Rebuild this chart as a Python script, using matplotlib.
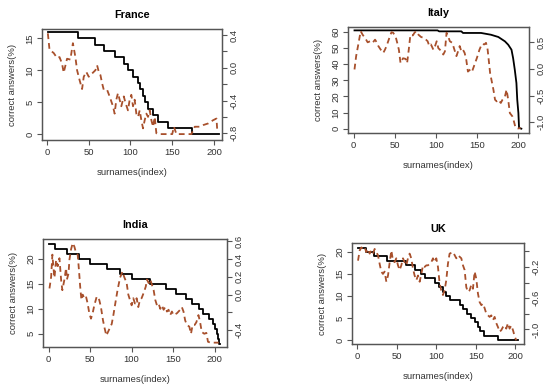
import numpy as np
import matplotlib
matplotlib.use("Agg")
import matplotlib.pyplot as plt

plt.rcParams['font.family'] = ['Liberation Sans', 'DejaVu Sans']

# ---------------- data ----------------
# France: black step (correct answers %), dashed (right axis)
fr_step_start = [1, 37, 58, 68, 81, 92, 97, 103, 109, 111, 115, 117, 121, 127, 133, 145, 174]
fr_step_level = [16, 15, 14, 13, 12, 11, 10, 9, 8, 7, 6, 5, 4, 3, 2, 1, 0]
fr_step_end = 206
fr_dash_idx = [1, 3, 8, 12, 15, 18, 20, 24, 28, 31, 34, 36, 39, 42, 44, 47, 50, 54, 58, 60,
               62, 64, 66, 68, 72, 75, 79, 81, 83, 85, 87, 89, 92, 94, 97, 99, 101, 103, 105, 107,
               109, 111, 113, 115, 117, 119, 121, 123, 125, 127, 129, 131, 133, 150, 152, 155, 157, 173, 177, 183,
               187, 193, 199, 203, 204]
fr_dash_val = [0.42, 0.22, 0.18, 0.12, 0.13, 0.05, -0.06, 0.11, 0.10, 0.30, 0.13, -0.03, -0.15, -0.26, -0.11, -0.05, -0.11, -0.07, -0.03, 0.03,
               -0.05, -0.09, -0.19, -0.27, -0.27, -0.35, -0.47, -0.56, -0.39, -0.31, -0.39, -0.47, -0.35, -0.43, -0.52, -0.39, -0.33, -0.47, -0.39, -0.56,
               -0.60, -0.52, -0.64, -0.74, -0.64, -0.56, -0.60, -0.52, -0.64, -0.72, -0.60, -0.80, -0.81, -0.81, -0.72, -0.81, -0.81, -0.81, -0.72, -0.72,
               -0.70, -0.68, -0.64, -0.62, -0.78]

# Italy
it_line_idx = [1, 102, 104, 131, 133, 155, 167, 176, 184, 188, 192, 194, 196, 198, 199, 200.4, 201.2, 204]
it_line_val = [61.0, 61.0, 60.4, 60.4, 59.4, 59.4, 58.3, 56.9, 54.2, 52.1, 49.0, 43.7, 36.6, 28.3, 18.0, 9.7, 0.4, 0.0]
it_dash_idx = [1, 3, 6, 8.5, 11, 14, 17, 20, 23, 26, 28, 30, 33, 36, 38, 40, 42, 44, 46, 48,
               51, 53, 55, 57, 60, 63, 65, 67, 69, 72, 74, 76, 79, 82, 86, 90, 92, 94, 97, 99,
               101, 103, 107, 109, 111, 113, 115, 117, 120, 122, 125, 127, 129, 131, 133, 135, 137, 139, 142, 144,
               147, 150, 153, 156, 159, 161, 163, 166, 170, 172, 174, 176, 179, 181, 184, 186, 188, 190, 193, 195,
               197, 200, 203]
it_dash_val = [-0.01, 0.24, 0.49, 0.71, 0.64, 0.58, 0.50, 0.52, 0.49, 0.55, 0.50, 0.43, 0.36, 0.30, 0.36, 0.43, 0.52, 0.61, 0.69, 0.68,
               0.61, 0.49, 0.36, 0.11, 0.20, 0.19, 0.11, 0.36, 0.64, 0.63, 0.68, 0.71, 0.64, 0.60, 0.58, 0.52, 0.43, 0.46, 0.36, 0.43,
               0.52, 0.39, 0.33, 0.27, 0.33, 0.68, 0.61, 0.52, 0.49, 0.39, 0.24, 0.33, 0.43, 0.33, 0.36, 0.30, 0.17, -0.05, -0.01, -0.05,
               0.08, 0.21, 0.36, 0.47, 0.46, 0.49, 0.36, -0.08, -0.39, -0.58, -0.61, -0.58, -0.64, -0.58, -0.52, -0.39, -0.58, -0.83, -0.89, -0.99,
               -1.11, -1.12, -1.11]

# India
in_step_start = [1, 8, 22, 36, 50, 70, 86, 100, 122, 141, 153, 165, 173, 181, 186, 193, 198, 201, 203, 204, 205]
in_step_level = [23, 22, 21, 20, 19, 18, 17, 16, 15, 14, 13, 12, 11, 10, 9, 8, 7, 6, 5, 4, 3]
in_step_end = 206
in_dash_idx = [1, 3, 4.5, 6, 7, 9, 11, 13, 15, 16.5, 19, 21, 22, 24, 25, 27, 29, 31, 33, 35,
               36.5, 38, 39.5, 41, 43, 45, 47, 49, 51, 53, 55, 58, 61, 63, 65.5, 67.5, 69.5, 71.5, 73.5, 76,
               78, 81, 83, 86, 89, 91, 94, 96, 98, 100, 102, 104, 106, 108, 110, 112, 114.5, 117, 118.5, 120.5,
               122.5, 124.5, 126.5, 128.5, 130.5, 132.5, 134.5, 136.5, 138.5, 140.5, 142.5, 144.5, 146.5, 148.5, 150.5, 154.5, 158.5, 160.5, 162.5, 164.5,
               166.5, 169.5, 171.5, 173.5, 176, 178, 180.5, 182.5, 184.5, 187.5, 190, 192, 195, 199, 205]
in_dash_val = [0.07, 0.20, 0.45, 0.28, 0.19, 0.39, 0.32, 0.41, 0.17, 0.05, 0.17, 0.30, 0.17, 0.24, 0.39, 0.51, 0.58, 0.54, 0.47, 0.45,
               0.28, 0.09, -0.06, 0.00, -0.04, -0.02, -0.10, -0.21, -0.27, -0.21, -0.12, -0.02, -0.06, -0.14, -0.29, -0.38, -0.46, -0.42, -0.38, -0.33,
               -0.23, -0.06, 0.05, 0.19, 0.26, 0.20, 0.13, 0.00, -0.06, -0.12, -0.04, -0.10, -0.04, -0.14, -0.06, -0.04, 0.02, 0.09, 0.17, 0.13,
               0.17, 0.11, 0.05, -0.06, -0.12, -0.10, -0.16, -0.12, -0.17, -0.14, -0.19, -0.17, -0.23, -0.19, -0.23, -0.21, -0.17, -0.14, -0.19, -0.29,
               -0.34, -0.36, -0.44, -0.34, -0.34, -0.31, -0.23, -0.31, -0.42, -0.44, -0.43, -0.53, -0.54, -0.54, -0.54]

# UK
uk_step_start = [1, 12, 22, 38, 62, 73, 81, 86, 98, 104, 109, 113, 117, 130, 134, 139, 144, 149, 153, 156, 160, 178]
uk_step_level = [21, 20, 19, 18, 17, 16, 15, 14, 13, 12, 11, 10, 9, 8, 7, 6, 5, 4, 3, 2, 1, 0]
uk_step_end = 203
uk_dash_idx = [1.3, 3.4, 5.5, 7.6, 9.7, 11.8, 13.9, 16, 18.1, 20.2, 22.3, 24.4, 26.5, 28.6, 30.7, 32.8, 34.9, 37.1, 39.2, 41.3,
               43.4, 45.5, 47.6, 49.7, 51.8, 53.9, 56, 58.1, 60.2, 62.3, 64.4, 66.5, 68.6, 70.7, 72.8, 75, 77.1, 79.2, 81.3, 83.4,
               85.5, 87.6, 89.7, 91.8, 93.9, 96, 98.1, 100.2, 102.3, 104.4, 106.5, 108.6, 110.7, 112.8, 114.9, 117, 119.2, 121.3, 123.4, 125.5,
               127.6, 129.7, 131.8, 133.9, 136, 138.1, 140.2, 142.3, 144.4, 146.5, 148.6, 150.7, 152.8, 154.9, 157.1, 159.2, 161.3, 163.4, 165.5, 167.6,
               169.7, 171.8, 173.9, 176, 178.1, 180.2, 182.3, 184.4, 186.5, 188.6, 190.7, 192.8, 194.9, 197.1, 199.2, 201.3]
uk_dash_val = [-0.12, 0.01, 0.05, 0.03, 0.05, -0.01, 0.03, -0.03, 0.01, -0.03, 0.03, -0.01, -0.05, -0.16, -0.26, -0.29, -0.26, -0.39, -0.31, -0.14,
               0.01, -0.12, -0.14, -0.09, -0.18, -0.24, -0.18, -0.09, -0.14, -0.18, -0.09, -0.03, -0.09, -0.22, -0.31, -0.37, -0.31, -0.39, -0.29, -0.18,
               -0.20, -0.18, -0.18, -0.16, -0.14, -0.09, -0.14, -0.09, -0.20, -0.41, -0.50, -0.56, -0.50, -0.37, -0.16, -0.03, -0.02, -0.01, -0.05, -0.09,
               -0.05, -0.07, -0.09, -0.18, -0.24, -0.46, -0.52, -0.50, -0.43, -0.48, -0.26, -0.35, -0.54, -0.65, -0.69, -0.67, -0.73, -0.80, -0.82, -0.84,
               -0.82, -0.88, -0.84, -0.92, -0.97, -1.03, -1.01, -0.97, -0.95, -0.99, -0.92, -0.99, -0.95, -1.01, -1.09, -1.14]

# axis ticks
fr_left_ticks = [0, 5, 10, 15]
fr_right_ticks = [-0.8, -0.6, -0.4, -0.2, 0.0, 0.2, 0.4]
fr_right_labels = ['-0.8', '', '-0.4', '', '0.0', '', '0.4']
it_left_ticks = [0, 10, 20, 30, 40, 50, 60]
it_right_ticks = [-1.0, -0.5, 0.0, 0.5]
it_right_labels = ['-1.0', '-0.5', '0.0', '0.5']
in_left_ticks = [5, 10, 15, 20]
in_right_ticks = [-0.4, -0.2, 0.0, 0.2, 0.4, 0.6]
in_right_labels = ['-0.4', '', '0.0', '0.2', '0.4', '0.6']
uk_left_ticks = [0, 5, 10, 15, 20]
uk_right_ticks = [-1.0, -0.8, -0.6, -0.4, -0.2, 0.0]
uk_right_labels = ['-1.0', '', '-0.6', '', '-0.2', '']
x_ticks = [0, 50, 100, 150, 200]

# ---------------- drawing ----------------
W, H = 550, 387
fig = plt.figure(figsize=(5.5, 3.87), dpi=100)
fig.patch.set_facecolor('white')

BOX = '#555555'
TXT = '#333333'
DASH = '#A8502C'
FS = 6.8


def px_axes(x0, y0, x1, y1):
    return fig.add_axes([x0 / W, (H - y1) / H, (x1 - x0) / W, (y1 - y0) / H])


def style(ax, twin):
    for s in ax.spines.values():
        s.set_color(BOX)
        s.set_linewidth(0.9)
    for s in twin.spines.values():
        s.set_color(BOX)
        s.set_linewidth(0.9)
    ax.tick_params(axis='both', direction='out', length=3.5, width=0.8, color=BOX,
                   labelsize=FS, labelcolor=TXT, pad=2)
    twin.tick_params(axis='y', direction='out', length=3.5, width=0.8, color=BOX,
                     labelsize=FS, labelcolor=TXT, pad=2)
    for lab in ax.get_yticklabels():
        lab.set_rotation(90)
        lab.set_va('center')
    for lab in twin.get_yticklabels():
        lab.set_rotation(90)
        lab.set_va('center')


def panel(box, title, xlim, ylim_l, ylim_r, lticks, rticks, rlabels, draw_black, didx, dval):
    ax = px_axes(*box)
    draw_black(ax)
    ax.set_xlim(*xlim)
    ax.set_ylim(*ylim_l)
    ax.set_xticks(x_ticks)
    ax.set_yticks(lticks)
    ax.set_yticklabels([str(t) for t in lticks])
    tw = ax.twinx()
    tw.plot(didx, dval, color=DASH, lw=1.3, dashes=(3.2, 2.2))
    tw.set_xlim(*xlim)
    tw.set_ylim(*ylim_r)
    tw.set_yticks(rticks)
    tw.set_yticklabels(rlabels)
    style(ax, tw)
    ax.set_title(title, fontsize=7.8, fontweight='bold', color='black', pad=8)
    ax.set_xlabel('surnames(index)', fontsize=FS, color=TXT, labelpad=8)
    ax.set_ylabel('correct answers(%)', fontsize=FS, color=TXT, labelpad=6)
    return ax


def step_drawer(starts, levels, end):
    def f(ax):
        xs = list(starts) + [end]
        ys = list(levels) + [levels[-1]]
        ax.step(xs, ys, where='post', color='black', lw=1.3)
    return f


def line_drawer(xs, ys):
    def f(ax):
        ax.plot(xs, ys, color='black', lw=1.3)
    return f


panel((42, 29, 222, 140), 'France', (-6, 209.6), (-0.89, 16.45), (-0.882, 0.473),
      fr_left_ticks, fr_right_ticks, fr_right_labels,
      step_drawer(fr_step_start, fr_step_level, fr_step_end), fr_dash_idx, fr_dash_val)

panel((348, 27, 529, 133), 'Italy', (-6.9, 213.3), (-2.69, 63.1), (-1.205, 0.788),
      it_left_ticks, it_right_ticks, it_right_labels,
      line_drawer(it_line_idx, it_line_val), it_dash_idx, it_dash_val)

panel((43, 239, 227, 347), 'India', (-6.8, 214.9), (2.31, 23.97), (-0.589, 0.626),
      in_left_ticks, in_right_ticks, in_right_labels,
      step_drawer(in_step_start, in_step_level, in_step_end), in_dash_idx, in_dash_val)

panel((352, 243, 524, 344), 'UK', (-6.3, 211), (-0.9, 22.04), (-1.187, 0.106),
      uk_left_ticks, uk_right_ticks, uk_right_labels,
      step_drawer(uk_step_start, uk_step_level, uk_step_end), uk_dash_idx, uk_dash_val)

fig.savefig('out.png', dpi=100, facecolor='white')
